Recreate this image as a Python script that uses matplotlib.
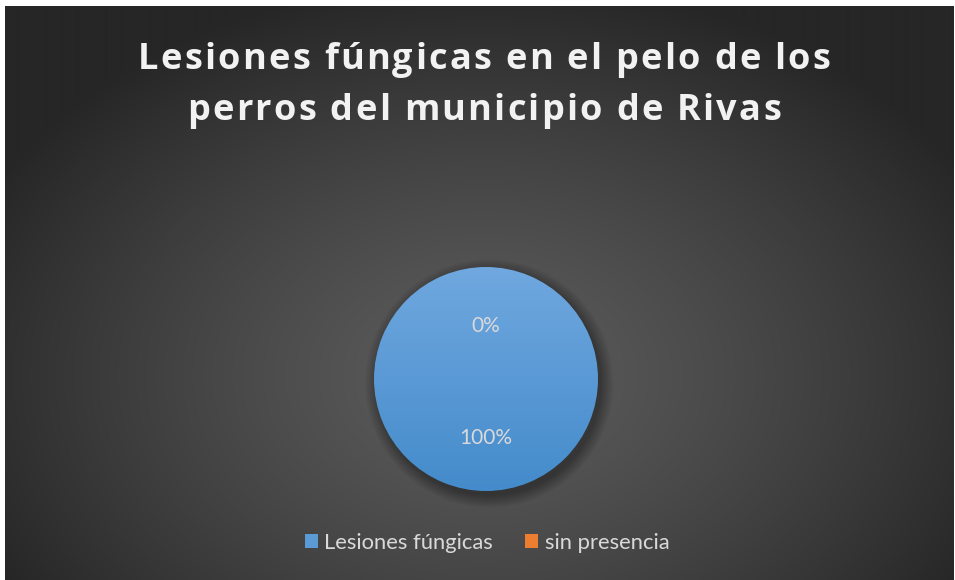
import numpy as np
import matplotlib
matplotlib.use("Agg")
import matplotlib.pyplot as plt
from matplotlib.patches import Patch, Circle
from matplotlib.font_manager import findfont, FontProperties
from matplotlib.ft2font import FT2Font

# ---- data -------------------------------------------------------------
categories = ["Lesiones fúngicas", "sin presencia"]
values = [100, 0]
colors = ["#5b9bd5", "#ed7d31"]
title_lines = ["Lesiones fúngicas en el pelo de los",
               "perros del municipio de Rivas"]

W, H = 955, 580
DPI = 100
fig = plt.figure(figsize=(W / DPI, H / DPI), dpi=DPI, facecolor="white")

# ---- dark radial background -------------------------------------------
bx0, bx1, by0, by1 = 5, 953, 0, 574   # pixel box (y from bottom)
bg = fig.add_axes([bx0 / W, by0 / H, (bx1 - bx0) / W, (by1 - by0) / H])
bg.set_axis_off()
yy, xx = np.mgrid[0:574, 0:948]
cx, cy = 478, 574 - 370
t = np.sqrt(((xx - cx) / 560.0) ** 2 + ((yy - cy) / 400.0) ** 2)
t = np.clip(t, 0, 1) ** 1.3
c_in, c_out = 0x5c, 0x26
g = (c_in + (c_out - c_in) * t) / 255.0
bg.imshow(np.dstack([g, g, g]), origin="lower", aspect="auto",
          extent=[0, 1, 0, 1], interpolation="bilinear")
bg.set_xlim(0, 1)
bg.set_ylim(0, 1)


# ---- letter-spaced title ----------------------------------------------
def advances(s, fp):
    font = FT2Font(findfont(fp))
    font.set_size(fp.get_size_in_points(), DPI)
    out = []
    for ch in s:
        gl = font.load_char(ord(ch))
        out.append(gl.linearHoriAdvance / 65536.0)
    return out


def spaced_line(s, xc, ybase, fp, spacing, color):
    adv = advances(s, fp)
    total = sum(adv) + spacing * (len(s) - 1)
    x = xc - total / 2.0
    for ch, a in zip(s, adv):
        fig.text(x / W, 1 - ybase / H, ch, fontproperties=fp, color=color,
                 ha="left", va="baseline")
        x += a + spacing


title_fp = FontProperties(family="Open Sans", weight="bold", size=26)
nat = sum(advances(title_lines[0], title_fp))
spacing = (693 - nat) / (len(title_lines[0]) - 1)
spaced_line(title_lines[0], 484, 69, title_fp, spacing, "#f2f2f2")
spaced_line(title_lines[1], 484, 120, title_fp, spacing, "#f2f2f2")

# ---- pie ----------------------------------------------------------------
pcx, pcy, pr = 486, 379, 112
ax = fig.add_axes([(pcx - pr) / W, 1 - (pcy + pr) / H, 2 * pr / W, 2 * pr / H])
ax.set_axis_off()

# soft shadow below the pie
for k in range(10):
    s = Circle((0.03, -0.04), 1.0 + 0.012 * k, color="black",
               alpha=0.035, lw=0, zorder=0, clip_on=False)
    ax.add_patch(s)

wedges, _ = ax.pie(values, startangle=90, counterclock=False, radius=1.0,
                   colors=["none", "none"], wedgeprops=dict(linewidth=0))

top = np.array([0x70, 0xa8, 0xdf]) / 255.0
bot = np.array([0x44, 0x8b, 0xcb]) / 255.0
ramp = np.linspace(0, 1, 256)[:, None]
grad = bot[None, None, :] * (1 - ramp[..., None]) + top[None, None, :] * ramp[..., None]
grad = np.repeat(grad, 2, axis=1)
wedge_cols = [None, np.array([0xf0, 0x85, 0x3a]) / 255.0]
for w, extra in zip(wedges, wedge_cols):
    if extra is None:
        img = grad
    else:
        img = np.repeat(np.repeat(extra[None, None, :], 256, 0), 2, 1)
    im = ax.imshow(img, origin="lower", extent=[-1, 1, -1, 1],
                   aspect="auto", zorder=2, interpolation="bilinear")
    im.set_clip_path(w)

# percentage labels
total = float(sum(values))
ang = 90.0
for v in values:
    sweep = 360.0 * v / total
    mid = np.deg2rad(ang - sweep / 2.0)
    d = 0.5
    ax.text(d * np.cos(mid), d * np.sin(mid) - 0.03, f"{v / total * 100:.0f}%",
            ha="center", va="center", color="#d9d9d9", fontsize=15,
            family="Lato", zorder=5)
    ang -= sweep
ax.set_xlim(-1, 1)
ax.set_ylim(-1, 1)

# ---- legend ------------------------------------------------------------
handles = [Patch(facecolor=c, edgecolor="none") for c in colors]
fig.legend(handles, categories, loc="center", bbox_to_anchor=(487 / W, 1 - 543 / H),
           ncol=2, frameon=False, labelcolor="#d9d9d9",
           prop=dict(family="Lato", size=15.8),
           handlelength=0.6, handleheight=0.6, handletextpad=0.3,
           columnspacing=1.45, borderaxespad=0)

fig.savefig("out.png", dpi=DPI, facecolor="white")
